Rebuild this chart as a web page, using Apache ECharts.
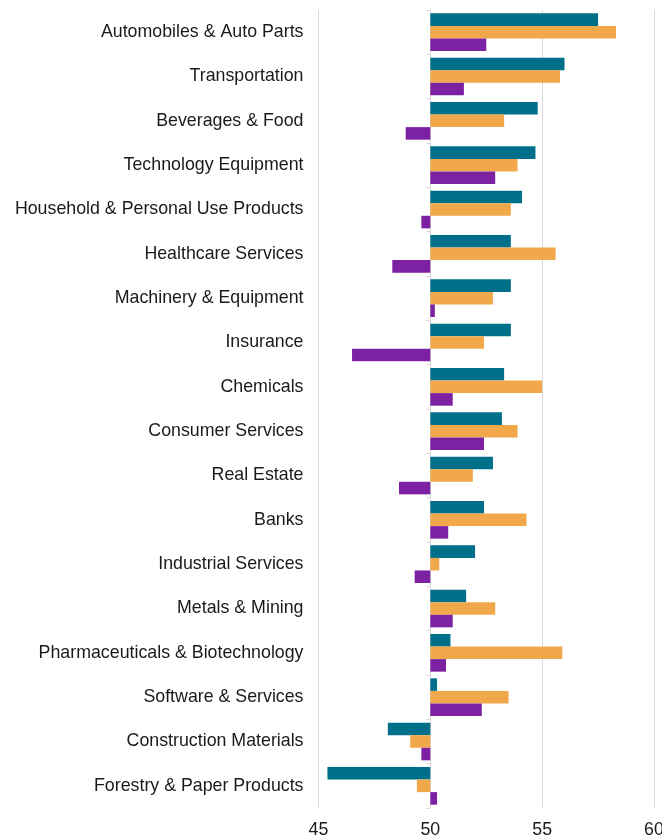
<!DOCTYPE html>
<html lang="en">
<head>
    <meta charset="UTF-8">
    <title>Sector scores</title>
    <script src="https://cdn.jsdelivr.net/npm/echarts@6/dist/echarts.min.js"></script>
    <style>
        html, body { margin: 0; padding: 0; background: #fff; }
        #chart { width: 662px; height: 837px; }
    </style>
</head>
<body>
<div id="chart"></div>
<script>
    // categories, top to bottom
    const sectors = [
        'Automobiles & Auto Parts', 'Transportation', 'Beverages & Food', 'Technology Equipment',
        'Household & Personal Use Products', 'Healthcare Services', 'Machinery & Equipment', 'Insurance',
        'Chemicals', 'Consumer Services', 'Real Estate', 'Banks', 'Industrial Services',
        'Metals & Mining', 'Pharmaceuticals & Biotechnology', 'Software & Services',
        'Construction Materials', 'Forestry & Paper Products'
    ];
    const seriesA = [57.5, 56.0, 54.8, 54.7, 54.1, 53.6, 53.6, 53.6, 53.3, 53.2, 52.8, 52.4, 52.0, 51.6, 50.9, 50.3, 48.1, 45.4];
    const seriesB = [58.3, 55.8, 53.3, 53.9, 53.6, 55.6, 52.8, 52.4, 55.0, 53.9, 51.9, 54.3, 50.4, 52.9, 55.9, 53.5, 49.1, 49.4];
    const seriesC = [52.5, 51.5, 48.9, 52.9, 49.6, 48.3, 50.2, 46.5, 51.0, 52.4, 48.6, 50.8, 49.3, 51.0, 50.7, 52.3, 49.6, 50.3];
    const baseline = 50;
    const xTicks = [45, 50, 55, 60];

    const colors = ['#00708a', '#f1a84b', '#7b21a1'];
    const textColor = '#1a1a1a';
    const gridColor = '#d9d9d9';

    // bars grow from the 50 line, so plot the distance from it
    const fromBase = arr => arr.map(v => +(v - baseline).toFixed(2));
    const cats = sectors.slice().reverse();

    function bar(name, values, color) {
        return {
            name: name,
            type: 'bar',
            data: fromBase(values).reverse(),
            itemStyle: { color: color },
            barGap: '0%',
            barCategoryGap: '15%',
            yAxisIndex: 0
        };
    }

    const chart = echarts.init(document.getElementById('chart'));
    chart.setOption({
        animation: false,
        textStyle: { fontFamily: 'Liberation Sans, Arial, sans-serif' },
        grid: {
            left: 318.5, right: 8, top: 10, bottom: 29,
            containLabel: false, outerBoundsMode: 'none'
        },
        xAxis: {
            type: 'value',
            min: xTicks[0] - baseline,
            max: xTicks[xTicks.length - 1] - baseline,
            interval: 5,
            axisLine: { show: false },
            axisTick: { show: false },
            axisLabel: {
                color: textColor,
                fontSize: 17.8,
                margin: 13,
                formatter: v => String(v + baseline)
            },
            splitLine: { show: true, lineStyle: { color: gridColor, width: 1 } }
        },
        yAxis: [
            {
                type: 'category',
                data: cats,
                position: 'left',
                axisLine: { show: false, onZero: false },
                axisTick: { show: false },
                axisLabel: { color: textColor, fontSize: 17.8, margin: 15 }
            },
            {
                type: 'category',
                data: cats,
                position: 'right',
                axisLine: { show: true, onZero: true, lineStyle: { color: gridColor, width: 1 } },
                axisTick: { show: true, inside: true, length: 4, lineStyle: { color: gridColor } },
                axisLabel: { show: false }
            }
        ],
        series: [
            bar('A', seriesA, colors[0]),
            bar('B', seriesB, colors[1]),
            bar('C', seriesC, colors[2])
        ]
    });
    window.addEventListener('resize', () => chart.resize());
</script>
</body>
</html>
